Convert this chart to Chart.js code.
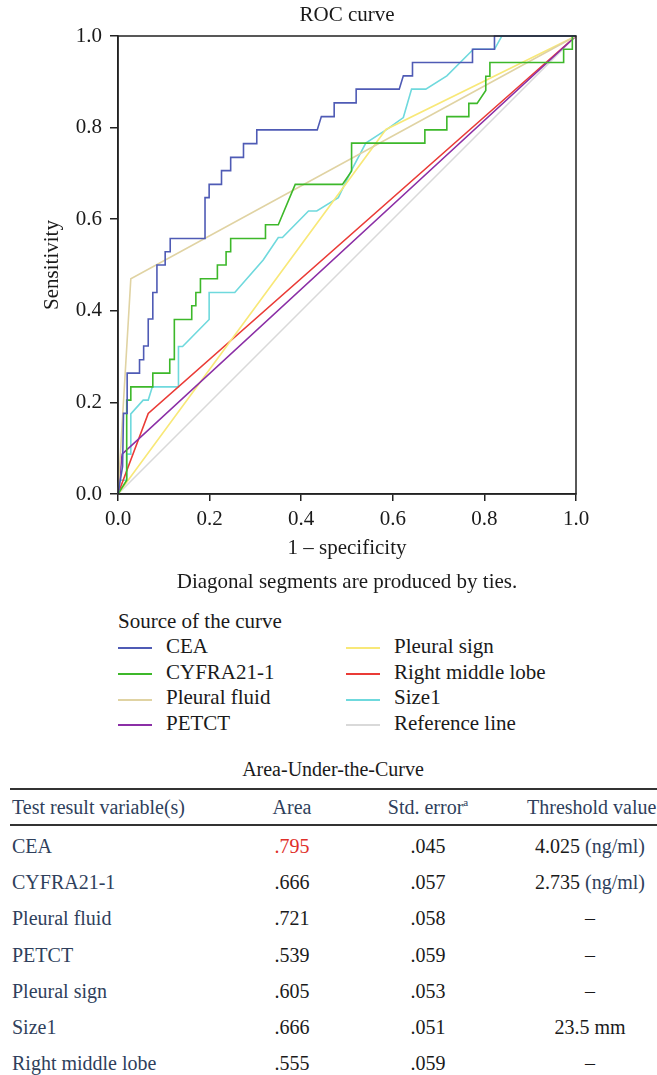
<!DOCTYPE html>
<html>
<head>
<meta charset="utf-8">
<script src="https://cdn.jsdelivr.net/npm/chart.js@4/dist/chart.umd.min.js"></script>
<style>
  body { margin: 0; background: #fff; width: 657px; height: 1075px; overflow: hidden; position: relative;
         font-family: 'Liberation Serif', 'Times New Roman', 'DejaVu Serif', serif; color: #1a1a1a; }
  #chartBox { position: absolute; left: 0; top: 0; width: 657px; height: 600px; }
  #legend { position: absolute; left: 118px; top: 608px; font-size: 21px; }
  #legend .ttl { height: 26px; line-height: 26px; }
  #legend .col { position: absolute; top: 26px; }
  #legend .item { height: 25.7px; line-height: 25.7px; white-space: nowrap; }
  #legend .sw { display: inline-block; width: 34px; height: 0; border-top: 2px solid; vertical-align: middle; margin-right: 14px; }
  #table { position: absolute; left: 0; top: 755px; width: 700px; font-size: 20px; }
  #table .cap { position: absolute; left: 0; width: 666px; text-align: center; top: 3px; }
  #table .rule { position: absolute; left: 10px; width: 660px; height: 2px; background: #333; }
  #table .cell { position: absolute; white-space: nowrap; line-height: 24px; height: 24px; }
  #table sup { font-size: 11px; line-height: 0; vertical-align: 8px; }
  .slate { color: #2f3f5c; }
</style>
</head>
<body>
<div id="chartBox"><canvas id="roc" width="657" height="600"></canvas></div>
<div id="legend"></div>
<div id="table"></div>
<script>
// ROC curve points (1 - specificity, sensitivity)
const ceaX = [0, 0.005, 0.01, 0.012, 0.02, 0.02, 0.047, 0.047, 0.056, 0.056, 0.066, 0.066, 0.076, 0.076, 0.085, 0.085, 0.103, 0.103, 0.114, 0.114, 0.19, 0.19, 0.199, 0.199, 0.226, 0.226, 0.246, 0.246, 0.274, 0.274, 0.303, 0.303, 0.435, 0.444, 0.472, 0.472, 0.52, 0.52, 0.614, 0.623, 0.643, 0.643, 0.774, 0.774, 0.822, 0.822, 1];
const ceaY = [0, 0.03, 0.06, 0.176, 0.176, 0.264, 0.264, 0.293, 0.293, 0.323, 0.323, 0.382, 0.382, 0.44, 0.44, 0.5, 0.5, 0.529, 0.529, 0.558, 0.558, 0.647, 0.647, 0.676, 0.676, 0.706, 0.706, 0.735, 0.735, 0.765, 0.765, 0.795, 0.795, 0.824, 0.824, 0.854, 0.854, 0.884, 0.884, 0.913, 0.913, 0.942, 0.942, 0.971, 0.971, 1, 1];

const cyfraX = [0, 0.019, 0.019, 0.028, 0.028, 0.076, 0.076, 0.113, 0.113, 0.123, 0.123, 0.161, 0.161, 0.17, 0.17, 0.18, 0.18, 0.217, 0.217, 0.236, 0.236, 0.246, 0.246, 0.322, 0.322, 0.35, 0.387, 0.49, 0.51, 0.51, 0.67, 0.67, 0.718, 0.718, 0.766, 0.766, 0.784, 0.803, 0.803, 0.812, 0.812, 0.973, 0.973, 0.992, 0.992, 1];
const cyfraY = [0, 0.03, 0.205, 0.205, 0.234, 0.234, 0.264, 0.264, 0.294, 0.294, 0.381, 0.381, 0.411, 0.411, 0.44, 0.44, 0.47, 0.47, 0.5, 0.5, 0.529, 0.529, 0.558, 0.558, 0.588, 0.588, 0.676, 0.676, 0.705, 0.766, 0.766, 0.795, 0.795, 0.824, 0.824, 0.853, 0.853, 0.881, 0.912, 0.912, 0.942, 0.942, 0.971, 0.971, 1, 1];

const fluidX = [0, 0.028, 1];
const fluidY = [0, 0.47, 1];

const petctX = [0, 0.009, 1];
const petctY = [0, 0.087, 1];

const signX = [0, 0.585, 1];
const signY = [0, 0.796, 1];

const lobeX = [0, 0.066, 1];
const lobeY = [0, 0.176, 1];

const sizeX = [0, 0.003, 0.019, 0.019, 0.028, 0.028, 0.055, 0.066, 0.075, 0.132, 0.132, 0.141, 0.199, 0.199, 0.255, 0.317, 0.35, 0.359, 0.416, 0.434, 0.481, 0.51, 0.541, 0.587, 0.623, 0.641, 0.672, 0.718, 0.776, 0.822, 0.838, 1];
const sizeY = [0, 0.03, 0.03, 0.087, 0.087, 0.175, 0.205, 0.205, 0.234, 0.234, 0.322, 0.322, 0.381, 0.44, 0.44, 0.511, 0.56, 0.56, 0.618, 0.618, 0.647, 0.707, 0.766, 0.796, 0.822, 0.884, 0.884, 0.913, 0.971, 0.971, 1, 1];

const refX = [0, 1];
const refY = [0, 1];

const curveNames = ['CEA', 'CYFRA21-1', 'Pleural fluid', 'PETCT', 'Pleural sign', 'Right middle lobe', 'Size1', 'Reference line'];
const curveColors = ['#4f5bb5', '#3db82a', '#e0d3a3', '#8b2fa6', '#f8e878', '#ea3b36', '#6fd9dd', '#d9d9d9'];
const curveXs = [ceaX, cyfraX, fluidX, petctX, signX, lobeX, sizeX, refX];
const curveYs = [ceaY, cyfraY, fluidY, petctY, signY, lobeY, sizeY, refY];

const axisTicks = [0, 0.2, 0.4, 0.6, 0.8, 1.0];

// Area-Under-the-Curve table
const tableHeads = ['Test result variable(s)', 'Area', 'Std. error', 'Threshold value'];
const tableVars = ['CEA', 'CYFRA21-1', 'Pleural fluid', 'PETCT', 'Pleural sign', 'Size1', 'Right middle lobe'];
const tableArea = ['.795', '.666', '.721', '.539', '.605', '.666', '.555'];
const tableStdErr = ['.045', '.057', '.058', '.059', '.053', '.051', '.059'];
const tableThreshold = ['4.025', '2.735', '–', '–', '–', '23.5 mm', '–'];
const tableUnit = ['(ng/ml)', '(ng/ml)', '', '', '', '', ''];

Chart.defaults.font.family = "'Liberation Serif', 'Times New Roman', 'DejaVu Serif', serif";
Chart.defaults.font.size = 21;
Chart.defaults.color = '#1a1a1a';

const frame = {
    id: 'frame',
    afterDraw(chart) {
        const {ctx, chartArea: a} = chart;
        ctx.save();
        ctx.strokeStyle = '#222';
        ctx.lineWidth = 1.5;
        ctx.strokeRect(a.left, a.top, a.right - a.left, a.bottom - a.top);
        ctx.restore();
    }
};

const datasets = curveNames.map((name, i) => ({
    label: name,
    data: curveXs[i].map((x, j) => ({x: x, y: curveYs[i][j]})),
    borderColor: curveColors[i],
    backgroundColor: curveColors[i],
    borderWidth: 1.6,
    pointRadius: 0,
    showLine: true,
    tension: 0,
    clip: 3
}));

const tickFormat = v => Number(v).toFixed(1);

new Chart(document.getElementById('roc'), {
    type: 'scatter',
    data: { datasets: datasets },
    plugins: [frame],
    options: {
        responsive: false,
        animation: false,
        layout: { padding: { left: 0, right: 81, top: 0, bottom: 0 } },
        plugins: {
            legend: { display: false },
            tooltip: { enabled: false },
            title: { display: true, text: 'ROC curve', fullSize: false, font: { size: 21, weight: 'normal' }, padding: { top: 2.4, bottom: 8.4 }, color: '#1a1a1a' },
            subtitle: { display: true, text: 'Diagonal segments are produced by ties.', position: 'bottom', fullSize: false, font: { size: 21 }, padding: { top: 0, bottom: 5.4 }, color: '#1a1a1a' }
        },
        scales: {
            x: {
                type: 'linear', min: 0, max: 1,
                afterBuildTicks: s => { s.ticks = axisTicks.map(v => ({value: v})); },
                afterFit: s => { s.height = 75.4; },
                ticks: { callback: tickFormat, padding: 6, maxRotation: 0 },
                grid: { drawOnChartArea: false, drawTicks: true, tickLength: 7, color: '#222', lineWidth: 1.5 },
                border: { display: true, color: '#222', width: 1.5 },
                title: { display: true, text: '1 – specificity', padding: { top: 0, bottom: 8.8 } }
            },
            y: {
                type: 'linear', min: 0, max: 1,
                afterBuildTicks: s => { s.ticks = axisTicks.map(v => ({value: v})); },
                afterFit: s => { s.width = 118; },
                ticks: { callback: tickFormat, padding: 8 },
                grid: { drawOnChartArea: false, drawTicks: true, tickLength: 8, color: '#222', lineWidth: 1.5 },
                border: { display: true, color: '#222', width: 1.5 },
                title: { display: true, text: 'Sensitivity', padding: { top: 39.4, bottom: 0 } }
            }
        }
    }
});

// legend in two columns, four rows each
const legend = document.getElementById('legend');
legend.innerHTML = '<div class="ttl">Source of the curve</div>';
[0, 1].forEach(c => {
    const col = document.createElement('div');
    col.className = 'col';
    col.style.left = (c * 228) + 'px';
    for (let r = 0; r < 4; r++) {
        const i = c * 4 + r;
        col.innerHTML += '<div class="item"><span class="sw" style="border-color:' + curveColors[i] + '"></span>' + curveNames[i] + '</div>';
    }
    legend.appendChild(col);
});

// AUC table
const table = document.getElementById('table');
const colCenters = [null, 292, 428, 590];
let html = '<div class="cap">Area-Under-the-Curve</div>';
html += '<div class="rule" style="top:33px"></div><div class="rule" style="top:69px"></div>';
const headY = 40;
html += '<div class="cell slate" style="left:12px;top:' + headY + 'px">' + tableHeads[0] + '</div>';
html += '<div class="cell slate" style="left:' + colCenters[1] + 'px;top:' + headY + 'px;transform:translateX(-50%)">' + tableHeads[1] + '</div>';
html += '<div class="cell slate" style="left:' + colCenters[2] + 'px;top:' + headY + 'px;transform:translateX(-50%)">' + tableHeads[2] + '<sup>a</sup></div>';
html += '<div class="cell slate" style="left:527px;top:' + headY + 'px">' + tableHeads[3] + '</div>';
tableVars.forEach((v, r) => {
    const y = 79 + r * 36.2;
    html += '<div class="cell slate" style="left:12px;top:' + y + 'px">' + v + '</div>';
    const areaColor = r === 0 ? '#e0302a' : '#1a1a1a';
    html += '<div class="cell" style="color:' + areaColor + ';left:' + colCenters[1] + 'px;top:' + y + 'px;transform:translateX(-50%)">' + tableArea[r] + '</div>';
    html += '<div class="cell" style="left:' + colCenters[2] + 'px;top:' + y + 'px;transform:translateX(-50%)">' + tableStdErr[r] + '</div>';
    const unit = tableUnit[r] ? ' <span class="slate">' + tableUnit[r] + '</span>' : '';
    html += '<div class="cell" style="left:' + colCenters[3] + 'px;top:' + y + 'px;transform:translateX(-50%)">' + tableThreshold[r] + unit + '</div>';
});
table.innerHTML = html;
</script>
</body>
</html>
